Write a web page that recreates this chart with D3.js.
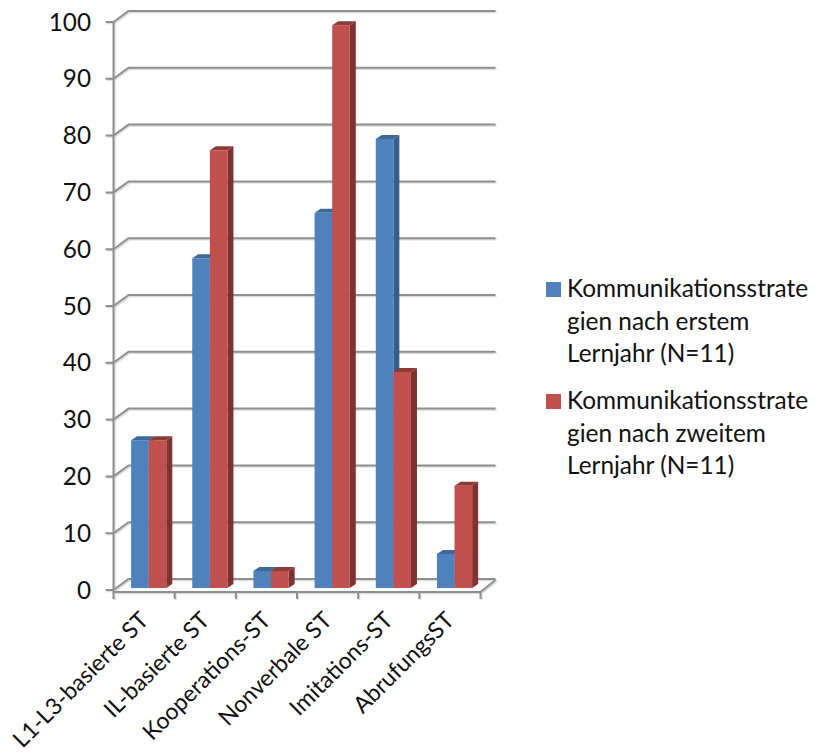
<!DOCTYPE html>
<html><head><meta charset="utf-8">
<script src="https://cdn.jsdelivr.net/npm/d3@7"></script>
<style>html,body{margin:0;padding:0;background:#fff}svg{display:block}text{font-family:Lato,"Open Sans",sans-serif;fill:#111}</style>
</head><body><svg id="chart" width="817" height="754"></svg>
<script>
const categories = ["L1-L3-basierte ST","IL-basierte ST","Kooperations-ST","Nonverbale ST","Imitations-ST","AbrufungsST"];
const firstYear = [26,58,3,66,79,6];
const secondYear = [26,77,3,99,38,18];
const yTicks = [0,10,20,30,40,50,60,70,80,90,100];
const seriesNames = [
  ["Kommunikationsstrate","gien nach erstem","Lernjahr (N=11)"],
  ["Kommunikationsstrate","gien nach zweitem","Lernjahr (N=11)"]
];
const palette = [
  {front:"#4f81bd",side:"#385d8a",top:"#3f6797"},
  {front:"#c0504d",side:"#7f3330",top:"#8c3a38"}
];
const gridColor = "#8f8f8f";
const gridShadow = "#dcdcdc";

const svg = d3.select("#chart");
const depth = {x:15, y:-11};       // offset from the front plane to the back wall
const barDepth = {x:6, y:-4};

const xAxis = d3.scaleBand().domain(categories).range([113.5,480.5]);
const yAxis = d3.scaleLinear().domain([0,100]).range([590,22]);
const yBar = d3.scaleLinear().domain([0,100]).range([588,19.5]);

// walls: gridlines on the back wall with a diagonal run to the front axis
function drawWall(stroke, offset){
  const wall = svg.append("g").attr("fill","none").attr("stroke",stroke).attr("stroke-width",2)
    .attr("transform",`translate(${offset},${offset})`);
  yTicks.forEach(t=>{
    const y=yAxis(t);
    wall.append("path").attr("d",`M${xAxis.range()[0]-8},${y}H${xAxis.range()[0]}L${xAxis.range()[0]+depth.x},${y+depth.y}H${xAxis.range()[1]+depth.x}`);
  });
  wall.append("path").attr("d",`M${xAxis.range()[0]},${yAxis(100)}V${yAxis(0)+2}`);
  // floor front edge with category ticks and the right-hand diagonal
  wall.append("path").attr("d",`M${xAxis.range()[0]},${yAxis(0)+2}H${xAxis.range()[1]}L${xAxis.range()[1]+depth.x},${yAxis(0)+depth.y+1}`);
  categories.concat([null]).forEach(c=>{
    const x = c===null ? xAxis.range()[1] : xAxis(c);
    wall.append("path").attr("d",`M${x},${yAxis(0)+2}v7`);
  });
}
drawWall(gridShadow,1.2);
drawWall(gridColor,0);

// y tick labels
svg.append("g").selectAll("text").data(yTicks).join("text")
  .attr("x",91).attr("y",d=>yAxis(d)+8.5).attr("text-anchor","end").attr("font-size",24.3).text(d=>d);

// 3D bars
const inner = 17.6, lead = 17.6;
function bar(g,cat,value,s){
  const x0 = xAxis(cat)+lead+s*inner, x1=x0+inner, yt=yBar(value), yb=yBar(0), c=palette[s];
  const dx=barDepth.x, dy=barDepth.y;
  g.append("path").attr("fill",c.side).attr("d",`M${x1},${yt}L${x1+dx},${yt+dy}V${yb+dy}L${x1},${yb}Z`);
  g.append("path").attr("fill",c.top).attr("d",`M${x0},${yt}L${x0+dx},${yt+dy}H${x1+dx}L${x1},${yt}Z`);
  g.append("rect").attr("fill",c.front).attr("x",x0).attr("y",yt).attr("width",inner).attr("height",yb-yt);
}
const bars = svg.append("g");
categories.forEach((c,i)=>{
  const g=bars.append("g");
  bar(g,c,firstYear[i],0);
  bar(g,c,secondYear[i],1);
});

// rotated category labels
svg.append("g").selectAll("text").data(categories).join("text")
  .attr("text-anchor","end").attr("font-size",23)
  .attr("transform",d=>`translate(${xAxis(d)+xAxis.bandwidth()/2-6},${610}) rotate(-45)`)
  .attr("dy","0.72em").text(d=>d);

// legend
const legendTops=[282,394];
seriesNames.forEach((lines,s)=>{
  const g=svg.append("g");
  g.append("rect").attr("x",546).attr("y",legendTops[s]).attr("width",15).attr("height",15).attr("fill",palette[s].front);
  lines.forEach((t,i)=>g.append("text").attr("x",567).attr("y",legendTops[s]+15+i*32.7).attr("font-size",24.4).text(t));
});
</script></body></html>
